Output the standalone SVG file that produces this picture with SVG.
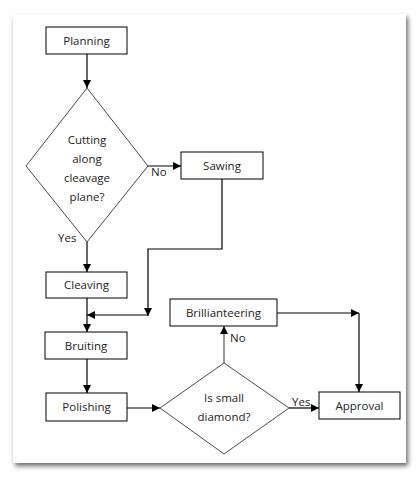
<svg xmlns="http://www.w3.org/2000/svg" width="420" height="480" viewBox="0 0 420 480">
<defs>
<filter id="sh" x="-5%" y="-5%" width="115%" height="115%">
<feGaussianBlur in="SourceAlpha" stdDeviation="2.5"/>
<feOffset dx="2" dy="3" result="b"/>
<feComponentTransfer><feFuncA type="linear" slope="0.6"/></feComponentTransfer>
<feMerge><feMergeNode/><feMergeNode in="SourceGraphic"/></feMerge>
</filter>
<marker id="ah" markerUnits="userSpaceOnUse" markerWidth="8" markerHeight="8" viewBox="0 0 8 8" refX="8" refY="4" orient="auto">
<path d="M0,0 L8,4 L0,8 z" fill="#000"/>
</marker>
</defs>
<style>
.box{fill:#fff;stroke:#000;stroke-width:1}
.dia{fill:#fff;stroke:#4a4a4a;stroke-width:1}
.t{font-family:"Open Sans","Noto Sans",sans-serif;font-size:11.5px;fill:#222;text-anchor:middle}
.lb{font-family:"Open Sans","Noto Sans",sans-serif;font-size:11.5px;fill:#222}
.c{fill:none;stroke:#000;stroke-width:1.2}
.g{stroke:#555}
</style>
<rect x="0" y="0" width="420" height="480" fill="#fff"/>
<rect x="13" y="14" width="393" height="449" fill="#fff" filter="url(#sh)"/>
<g id="connectors">
<path class="c" d="M87,54 V88" marker-end="url(#ah)"/>
<path class="c" d="M148,166 H181" marker-end="url(#ah)"/>
<path class="c" d="M87,242 V272" marker-end="url(#ah)"/>
<path class="c" d="M222,179 V249 H148 V316" marker-end="url(#ah)"/>
<path class="c" d="M148,315 H87" marker-end="url(#ah)"/>
<path class="c" d="M87,298 V332" marker-end="url(#ah)"/>
<path class="c" d="M87,359 V393" marker-end="url(#ah)"/>
<path class="c" d="M127,408 H160" marker-end="url(#ah)"/>
<path class="c g" d="M224,363 V326" marker-end="url(#ah)"/>
<path class="c" d="M289,408 H319" marker-end="url(#ah)"/>
<path class="c" d="M277,313 H359" marker-end="url(#ah)"/>
<path class="c" d="M359,313 V392" marker-end="url(#ah)"/>
<text class="lb" x="151" y="176">No</text>
<text class="lb" x="58" y="242">Yes</text>
<text class="lb" x="230" y="342">No</text>
<text class="lb" x="292" y="406">Yes</text>
</g>
<g id="planning"><rect class="box" x="46" y="27" width="81" height="27"/><text class="t" x="86.5" y="44.5">Planning</text></g>
<g id="cutting"><polygon class="dia" points="87,88 148,166 87,242 26,166"/>
<text class="t" x="87" y="144">Cutting</text><text class="t" x="87" y="163">along</text><text class="t" x="87" y="182">cleavage</text><text class="t" x="87" y="201">plane?</text></g>
<g id="sawing"><rect class="box" x="181" y="152" width="82" height="27"/><text class="t" x="222" y="169.5">Sawing</text></g>
<g id="cleaving"><rect class="box" x="46" y="272" width="81" height="26"/><text class="t" x="86.5" y="289">Cleaving</text></g>
<g id="bruiting"><rect class="box" x="45" y="332" width="82" height="27"/><text class="t" x="86" y="349.5">Bruiting</text></g>
<g id="polishing"><rect class="box" x="46" y="393" width="81" height="28"/><text class="t" x="86.5" y="411">Polishing</text></g>
<g id="small"><polygon class="dia" points="224,363 289,408 224,454 160,408"/>
<text class="t" x="224" y="402">Is small</text><text class="t" x="224" y="421">diamond?</text></g>
<g id="brillianteering"><rect class="box" x="170" y="299" width="107" height="27"/><text class="t" x="223.5" y="316.5">Brillianteering</text></g>
<g id="approval"><rect class="box" x="319" y="392" width="81" height="27"/><text class="t" x="359.5" y="409.5">Approval</text></g>
</svg>
